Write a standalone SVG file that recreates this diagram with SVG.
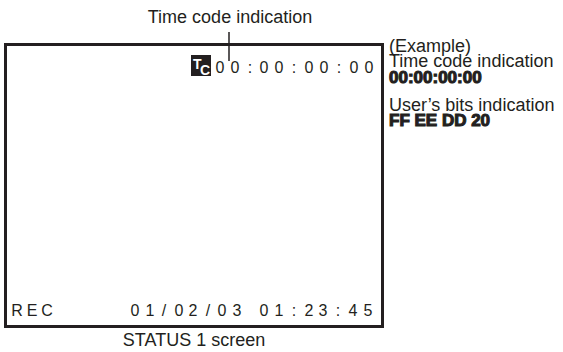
<svg xmlns="http://www.w3.org/2000/svg" width="563" height="352" viewBox="0 0 563 352">
<style>
text{font-family:"Liberation Sans",Arial,sans-serif;fill:#231f20}
.lbl{font-size:18px}
.scr{font-size:16px;text-anchor:middle}
.bold{font-size:17px;font-weight:bold;stroke:#231f20;stroke-width:1.1}
</style>
<rect width="563" height="352" fill="#fff"/>
<g id="screen">
<rect x="5.5" y="44.5" width="377" height="282" fill="#fff" stroke="#231f20" stroke-width="3"/>
<rect x="191" y="55" width="20" height="21" fill="#231f20"/>
<text x="193" y="69" style="font-size:14px;fill:#fff;font-weight:bold">T</text>
<text x="200" y="75" style="font-size:14px;fill:#fff;font-weight:bold">C</text>
<text class="scr" y="73" x="220 235 250 264 279 294 309 324 339 354 369">00:00:00:00</text>
<text class="scr" y="316" x="17 32 47">REC</text>
<text class="scr" y="316" x="135 150 164 179 193 208 222 237 264 279 294 309 323 338 353 368">01/02/0301:23:45</text>
</g>
<g id="connectors">
<line x1="229" y1="32" x2="229" y2="61" stroke="#231f20" stroke-width="1.5"/>
</g>
<g id="title"><text x="230" y="23" class="lbl" text-anchor="middle">Time code indication</text></g>
<g id="caption"><text x="194" y="346" class="lbl" text-anchor="middle">STATUS 1 screen</text></g>
<g id="example">
<text x="389" y="52" class="lbl">(Example)</text>
<text x="389" y="67" class="lbl">Time code indication</text>
<text x="389" y="83" class="bold">00:00:00:00</text>
<text x="389" y="111" class="lbl">User’s bits indication</text>
<text x="389" y="126" class="bold">FF EE DD 20</text>
</g>
</svg>
